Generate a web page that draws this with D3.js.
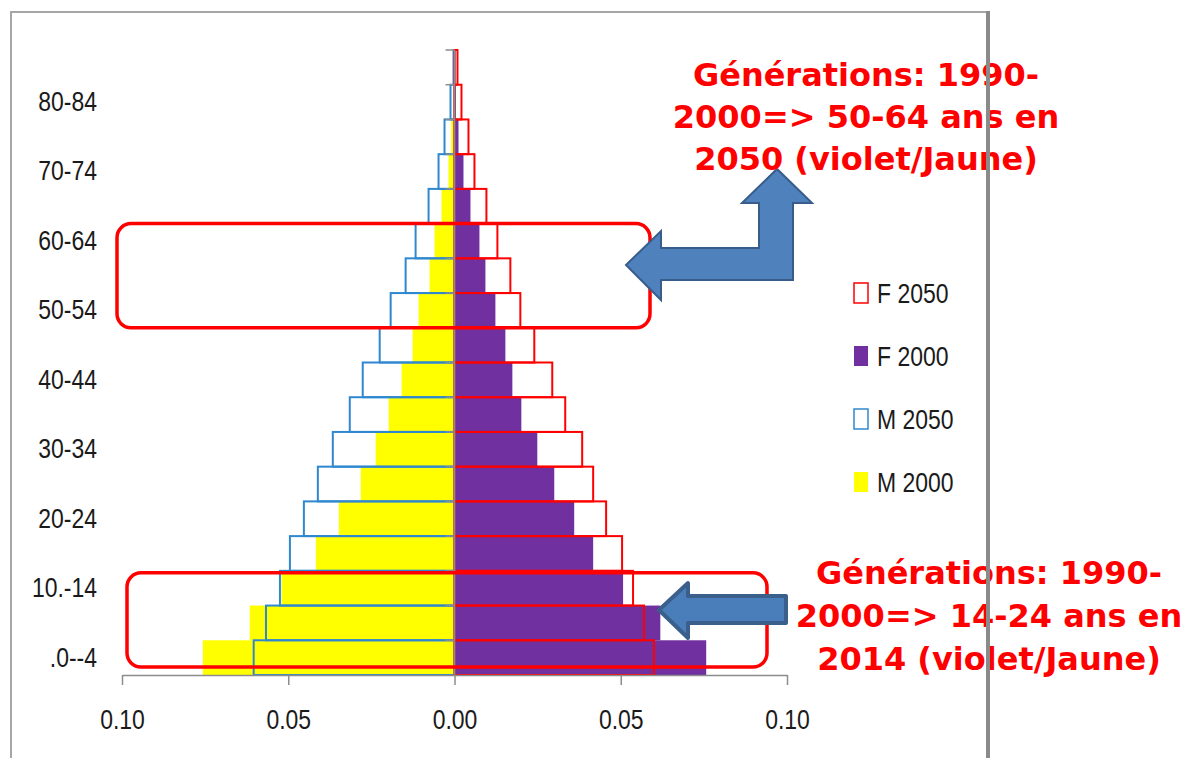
<!DOCTYPE html>
<html>
<head>
<meta charset="utf-8">
<script src="https://cdn.jsdelivr.net/npm/d3@7"></script>
<style>
  body { margin: 0; background: #fff; }
  svg { display: block; }
  .lbl { font-family: "Liberation Sans", Arial, sans-serif; font-size: 28px; fill: #1a1a1a; }
  .note { font-family: "DejaVu Sans", Verdana, sans-serif; font-weight: bold; font-size: 32px; fill: #ff0000; }
</style>
</head>
<body>
<div id="chart"></div>
<script>
// age groups, bottom to top
const ageGroups = [".0--4", "5.-9", "10.-14", "15-19", "20-24", "25-29", "30-34", "35-39", "40-44",
    "45-49", "50-54", "55-59", "60-64", "65-69", "70-74", "75-79", "80-84", "85-89"];

// shares of total population
const m2000 = [0.0757, 0.0616, 0.0520, 0.0417, 0.0348, 0.0282, 0.0237, 0.0198, 0.0159,
    0.0126, 0.0108, 0.0075, 0.0060, 0.0039, 0.0018, 0.0010, 0.0004, 0.0001];
const f2000 = [0.0757, 0.0619, 0.0507, 0.0417, 0.0360, 0.0300, 0.0249, 0.0201, 0.0174,
    0.0153, 0.0123, 0.0093, 0.0075, 0.0048, 0.0027, 0.0012, 0.0004, 0.0001];
const m2050 = [0.0604, 0.0567, 0.0525, 0.0495, 0.0453, 0.0411, 0.0366, 0.0315, 0.0276,
    0.0225, 0.0192, 0.0147, 0.0117, 0.0078, 0.0048, 0.0030, 0.0012, 0.0003];
const f2050 = [0.0600, 0.0570, 0.0537, 0.0504, 0.0456, 0.0417, 0.0384, 0.0333, 0.0294,
    0.0240, 0.0198, 0.0168, 0.0129, 0.0096, 0.0060, 0.0042, 0.0021, 0.0009];

const xTicks = [-0.1, -0.05, 0, 0.05, 0.1];
const legendItems = ["F 2050", "F 2000", "M 2050", "M 2000"];
const note1 = ["Générations: 1990-", "2000=> 50-64 ans en", "2050 (violet/Jaune)"];
const note2 = ["Générations: 1990-", "2000=> 14-24 ans en", "2014 (violet/Jaune)"];

const W = 1187, H = 758;
const yellow = '#ffff00', purple = '#7030a0', blue = '#2f88cf', red = '#ff0000', grey = '#8c8c8c';

const svg = d3.select('#chart').append('svg').attr('width', W).attr('height', H);

// squeeze text to a narrow face (no narrow font installed)
function narrow(sel) {
    sel.each(function () {
        const len = this.getComputedTextLength();
        d3.select(this).attr('textLength', len * 0.82).attr('lengthAdjust', 'spacingAndGlyphs');
    });
}

const x = d3.scaleLinear().domain([-0.1, 0.1]).range([122, 787]);
const y = d3.scaleBand().domain(ageGroups).range([675, 50]).padding(0);
const bw = y.bandwidth();

const rows = ageGroups.map((g, i) => ({ g, m2000: m2000[i], f2000: f2000[i], m2050: m2050[i], f2050: f2050[i] }));

// filled bars (2000)
svg.append('g').selectAll('rect').data(rows).join('rect')
    .attr('x', d => x(-d.m2000)).attr('y', d => y(d.g))
    .attr('width', d => x(0) - x(-d.m2000)).attr('height', bw)
    .attr('fill', yellow);
svg.append('g').selectAll('rect').data(rows).join('rect')
    .attr('x', x(0)).attr('y', d => y(d.g))
    .attr('width', d => x(d.f2000) - x(0)).attr('height', bw)
    .attr('fill', purple);

// outlined bars (2050)
svg.append('g').selectAll('rect').data(rows).join('rect')
    .attr('x', d => x(-d.m2050)).attr('y', d => y(d.g))
    .attr('width', d => x(0) - x(-d.m2050)).attr('height', bw)
    .attr('fill', 'none').attr('stroke', blue).attr('stroke-width', 2);
svg.append('g').selectAll('rect').data(rows).join('rect')
    .attr('x', x(0)).attr('y', d => y(d.g))
    .attr('width', d => x(d.f2050) - x(0)).attr('height', bw)
    .attr('fill', 'none').attr('stroke', red).attr('stroke-width', 2);

// x axis
const xAxis = svg.append('g')
    .attr('transform', `translate(0,${y.range()[0]})`)
    .call(d3.axisBottom(x).tickValues(xTicks).tickSize(10).tickSizeOuter(0).tickPadding(24)
        .tickFormat(d => Math.abs(d).toFixed(2)));
xAxis.select('.domain').attr('stroke', grey).attr('stroke-width', 1.5);
xAxis.selectAll('.tick line').attr('stroke', grey).attr('stroke-width', 1.5);
xAxis.selectAll('text').attr('class', 'lbl').attr('font-size', null).attr('font-family', null).call(narrow);

// vertical axis at zero with boundary ticks
svg.append('line')
    .attr('x1', x(0)).attr('x2', x(0)).attr('y1', y.range()[1]).attr('y2', y.range()[0])
    .attr('stroke', grey).attr('stroke-width', 1.5);
svg.append('g').selectAll('line').data(ageGroups).join('line')
    .attr('x1', x(0) - 9).attr('x2', x(0))
    .attr('y1', d => y(d)).attr('y2', d => y(d))
    .attr('stroke', grey).attr('stroke-width', 1.5);

// category labels, every other group, low position
const yAxis = svg.append('g')
    .attr('transform', 'translate(100,0)')
    .call(d3.axisLeft(y).tickValues(ageGroups.filter((d, i) => i % 2 === 0)).tickSize(0).tickPadding(3));
yAxis.select('.domain').remove();
yAxis.selectAll('text').attr('class', 'lbl').attr('font-size', null).attr('font-family', null).call(narrow);

// legend
const legendFill = [
    { fill: 'none', stroke: red },
    { fill: purple, stroke: 'none' },
    { fill: 'none', stroke: blue },
    { fill: yellow, stroke: 'none' }
];
const lg = svg.append('g').selectAll('g').data(legendItems).join('g')
    .attr('transform', (d, i) => `translate(853,${293 + i * 63})`);
lg.append('rect').attr('x', 1).attr('y', -10).attr('width', 14).attr('height', 20)
    .attr('fill', (d, i) => legendFill[i].fill).attr('stroke', (d, i) => legendFill[i].stroke).attr('stroke-width', 1.5);
lg.append('text').attr('class', 'lbl').attr('x', 24).attr('dy', '0.36em').text(d => d).call(narrow);

// highlight boxes
svg.append('rect')
    .attr('x', 117).attr('y', y('60-64')).attr('width', 650 - 117).attr('height', y('50-54') + bw - y('60-64'))
    .attr('rx', 14).attr('fill', 'none').attr('stroke', red).attr('stroke-width', 3.5);
svg.append('rect')
    .attr('x', 127).attr('y', y('10.-14') + 2).attr('width', 767 - 127).attr('height', 667 - y('10.-14') - 2)
    .attr('rx', 14).attr('fill', 'none').attr('stroke', red).attr('stroke-width', 3.5);

// arrows
const arrow1 = [[626, 265], [661, 231], [661, 248], [759, 248], [759, 203], [742, 203], [777, 169],
    [812, 203], [793, 203], [793, 280], [661, 280], [661, 300]];
svg.append('path')
    .attr('d', d3.line()(arrow1) + 'Z')
    .attr('fill', '#4f81bd').attr('stroke', '#385d8a').attr('stroke-width', 2).attr('stroke-linejoin', 'miter');
const arrow2 = [[659, 610], [688, 583], [688, 596], [786, 596], [786, 623], [688, 623], [688, 638]];
svg.append('path')
    .attr('d', d3.line()(arrow2) + 'Z')
    .attr('fill', '#4a7ebb').attr('stroke', '#3a5f8b').attr('stroke-width', 4).attr('stroke-linejoin', 'round');

// notes
svg.append('g').selectAll('text').data(note1).join('text')
    .attr('class', 'note').attr('text-anchor', 'middle')
    .attr('x', 866).attr('y', (d, i) => 74 + i * 42).attr('dy', '0.36em').text(d => d);
svg.append('g').selectAll('text').data(note2).join('text')
    .attr('class', 'note').attr('text-anchor', 'middle')
    .attr('x', 989).attr('y', (d, i) => 572 + i * 43).attr('dy', '0.36em').text(d => d);

// chart frame
svg.append('path').attr('d', 'M11,758 V12 H987').attr('fill', 'none').attr('stroke', '#a6a6a6').attr('stroke-width', 2);
svg.append('line').attr('x1', 988).attr('x2', 988).attr('y1', 11).attr('y2', 758)
    .attr('stroke', '#8a8a8a').attr('stroke-width', 4);
</script>
</body>
</html>
